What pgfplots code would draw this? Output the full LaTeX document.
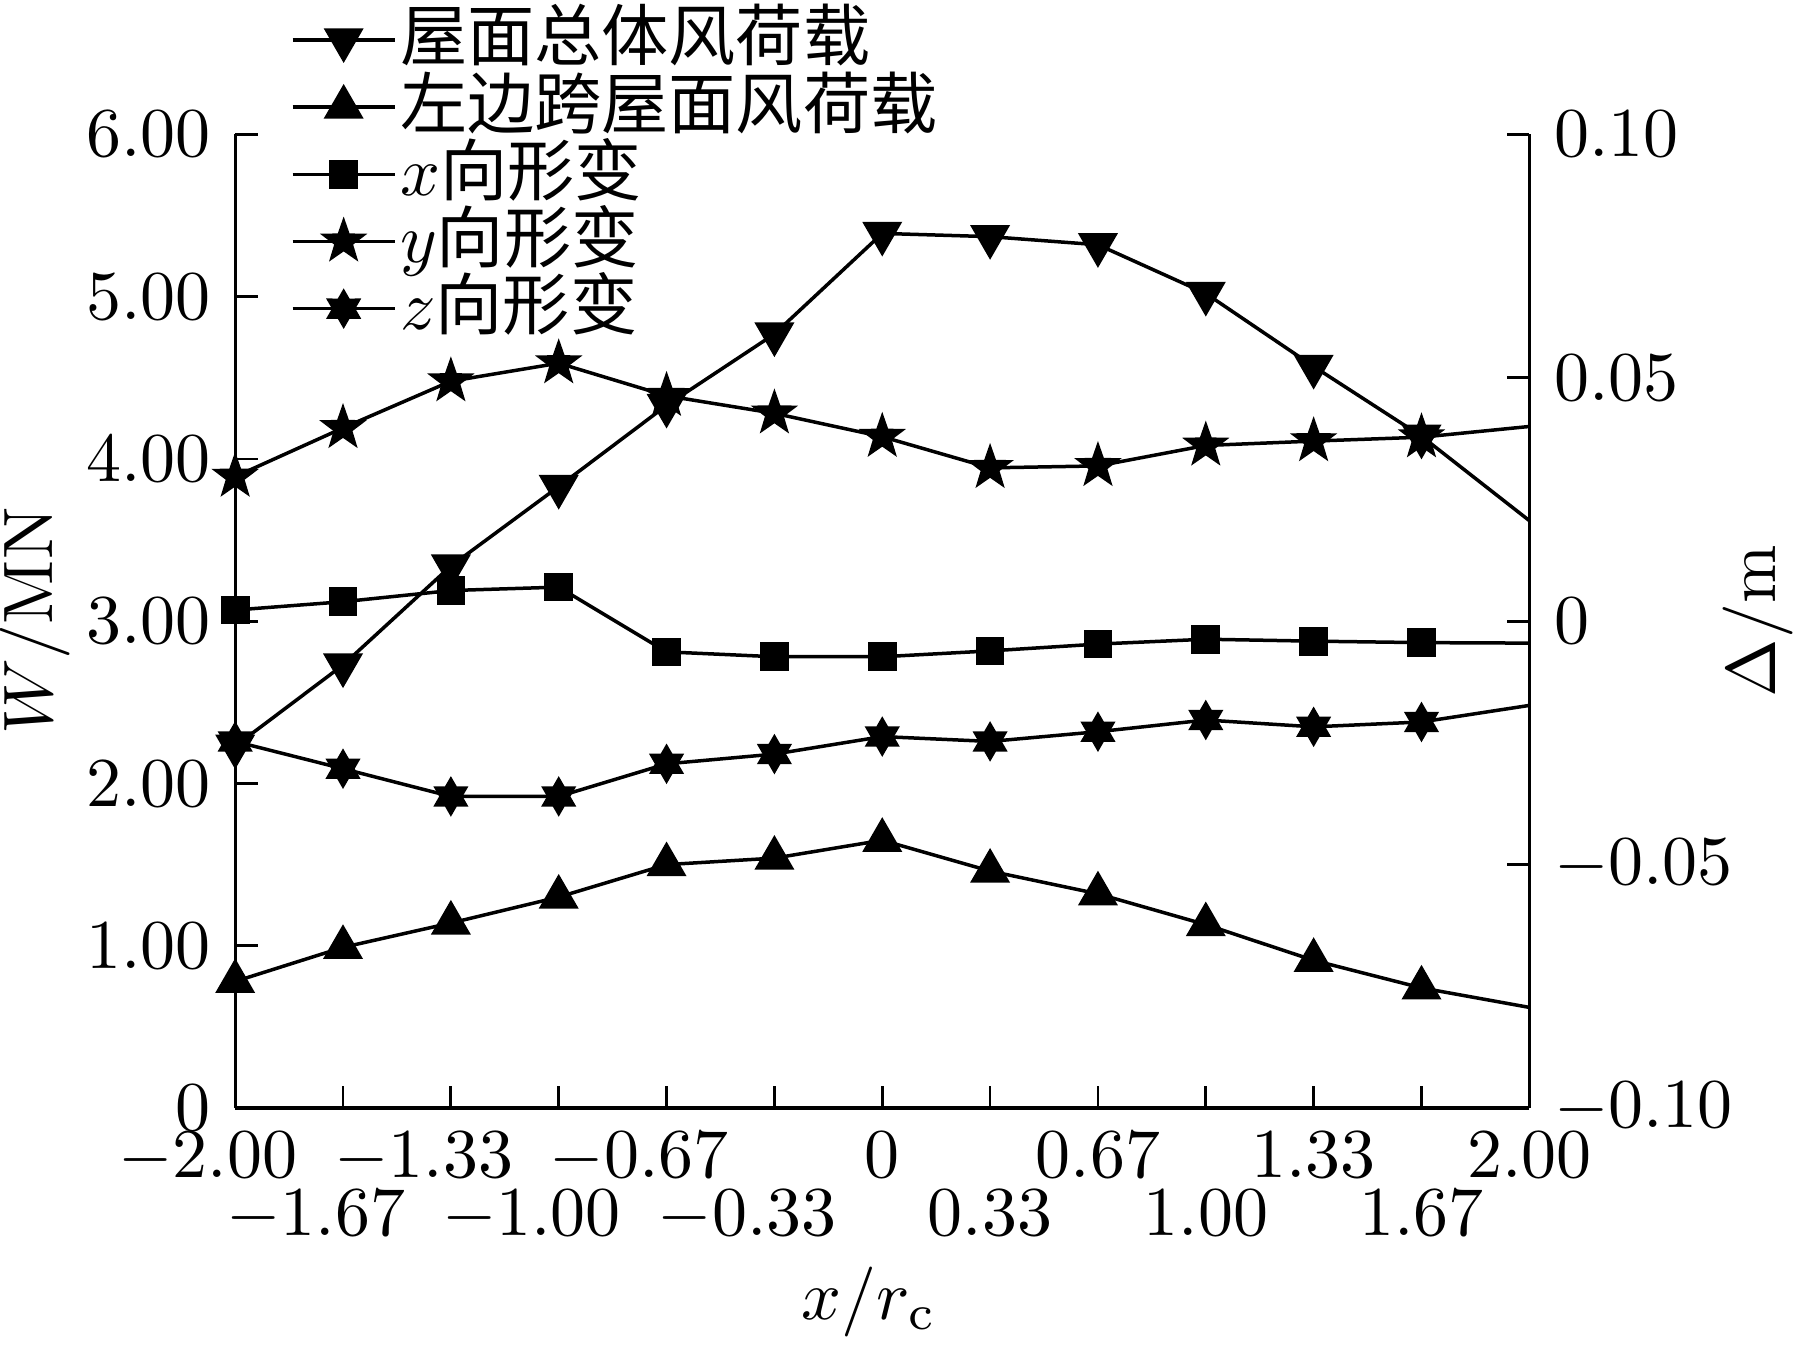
\documentclass[border=0pt]{standalone}
\usepackage{fontspec}
\usepackage{pgfplots}
\pgfplotsset{compat=1.18}
\newfontfamily\cjk{Noto Sans CJK SC}
\newcommand{\lcjk}[1]{{\fontsize{9.6pt}{10pt}\selectfont\cjk #1}}

\pgfdeclareplotmark{fivestar}{%
  \pgfpathmoveto{\pgfpointpolar{90}{\pgfplotmarksize}}%
  \pgfpathlineto{\pgfpointpolar{126}{0.40\pgfplotmarksize}}%
  \pgfpathlineto{\pgfpointpolar{162}{\pgfplotmarksize}}%
  \pgfpathlineto{\pgfpointpolar{198}{0.40\pgfplotmarksize}}%
  \pgfpathlineto{\pgfpointpolar{234}{\pgfplotmarksize}}%
  \pgfpathlineto{\pgfpointpolar{270}{0.40\pgfplotmarksize}}%
  \pgfpathlineto{\pgfpointpolar{306}{\pgfplotmarksize}}%
  \pgfpathlineto{\pgfpointpolar{342}{0.40\pgfplotmarksize}}%
  \pgfpathlineto{\pgfpointpolar{18}{\pgfplotmarksize}}%
  \pgfpathlineto{\pgfpointpolar{54}{0.40\pgfplotmarksize}}%
  \pgfpathclose
  \pgfusepathqfillstroke}

\pgfdeclareplotmark{sixstar}{%
  \pgfpathmoveto{\pgfpointpolar{90}{\pgfplotmarksize}}%
  \pgfpathlineto{\pgfpointpolar{120}{0.577\pgfplotmarksize}}%
  \pgfpathlineto{\pgfpointpolar{150}{\pgfplotmarksize}}%
  \pgfpathlineto{\pgfpointpolar{180}{0.577\pgfplotmarksize}}%
  \pgfpathlineto{\pgfpointpolar{210}{\pgfplotmarksize}}%
  \pgfpathlineto{\pgfpointpolar{240}{0.577\pgfplotmarksize}}%
  \pgfpathlineto{\pgfpointpolar{270}{\pgfplotmarksize}}%
  \pgfpathlineto{\pgfpointpolar{300}{0.577\pgfplotmarksize}}%
  \pgfpathlineto{\pgfpointpolar{330}{\pgfplotmarksize}}%
  \pgfpathlineto{\pgfpointpolar{0}{0.577\pgfplotmarksize}}%
  \pgfpathlineto{\pgfpointpolar{30}{\pgfplotmarksize}}%
  \pgfpathlineto{\pgfpointpolar{60}{0.577\pgfplotmarksize}}%
  \pgfpathclose
  \pgfusepathqfillstroke}

\pgfplotstableread{
x        total  left
-2.0000  2.23   0.78
-1.6667  2.73   0.99
-1.3333  3.34   1.14
-1.0000  3.83   1.30
-0.6667  4.33   1.50
-0.3333  4.77   1.54
 0.0000  5.39   1.65
 0.3333  5.37   1.46
 0.6667  5.32   1.32
 1.0000  5.02   1.13
 1.3333  4.57   0.91
 1.6667  4.14   0.74
 2.0000  3.62   0.62
}\loads

\pgfplotstableread{
x        dx       dy      dz
-2.0000  0.0023   0.0297  -0.0247
-1.6667  0.0040   0.0397  -0.0303
-1.3333  0.0063   0.0493  -0.0360
-1.0000  0.0070   0.0530  -0.0360
-0.6667  -0.0063  0.0463  -0.0293
-0.3333  -0.0073  0.0427  -0.0273
 0.0000  -0.0073  0.0379  -0.0237
 0.3333  -0.0061  0.0315  -0.0247
 0.6667  -0.0047  0.0319  -0.0227
 1.0000  -0.0037  0.0361  -0.0203
 1.3333  -0.0041  0.0370  -0.0217
 1.6667  -0.0044  0.0378  -0.0207
 2.0000  -0.0045  0.0400  -0.0173
}\deforms

\pgfplotsset{
  common/.style={
    scale only axis, width=184.9pt, height=139.1pt,
    xmin=-2, xmax=2,
    tick align=inside, major tick length=3.2pt,
    tick style={black, line width=0.4pt},
    axis line style={line width=0.45pt},
  },
  s1/.style={black, line width=0.5pt, mark=triangle*, mark size=2.8pt, mark options={rotate=180, solid}},
  s2/.style={black, line width=0.5pt, mark=triangle*, mark size=2.8pt, mark options={solid}},
  s3/.style={black, line width=0.5pt, mark=square*, mark size=1.8pt, mark options={solid}},
  s4/.style={black, line width=0.5pt, mark=fivestar, mark size=2.8pt, mark options={solid}},
  s5/.style={black, line width=0.5pt, mark=sixstar, mark size=2.4pt, mark options={solid}},
  nolast/.style={mark indices={1,2,3,4,5,6,7,8,9,10,11,12}},
}

\begin{document}
\begin{tikzpicture}
\path[use as bounding box] (-33.6pt,-35.6pt) rectangle (224pt,158.3pt);
\begin{axis}[common,
  ymin=0, ymax=6,
  axis x line*=bottom, axis y line*=left,
  xtick={-2,-1.3333,-0.6667,0,0.6667,1.3333,2},
  xticklabels={$\llap{$-$}2.00$, $\llap{$-$}1.33$, $\llap{$-$}0.67$, $0$, $0.67$, $1.33$, $2.00$},
  extra x ticks={-1.6667,-1,-0.3333,0.3333,1,1.6667},
  extra x tick labels={$\llap{$-$}1.67$, $\llap{$-$}1.00$, $\llap{$-$}0.33$, $0.33$, $1.00$, $1.67$},
  extra x tick style={tick label style={yshift=-8.2pt}},
  ytick={0,1,2,3,4,5,6},
  yticklabels={$0$,$1.00$,$2.00$,$3.00$,$4.00$,$5.00$,$6.00$},
  xlabel={$x/r_{\mathrm{c}}$},
  xlabel style={at={(axis description cs:0.49,-0.199)}, anchor=center},
  ylabel={$W/\mathrm{MN}$},
  ylabel style={at={(axis description cs:-0.155,0.5)}, anchor=center},
]
\addplot[s1, nolast] table[x=x, y=total] {\loads};
\addplot[s2, nolast] table[x=x, y=left] {\loads};
\end{axis}
\begin{axis}[common,
  ymin=-0.1, ymax=0.1,
  axis y line*=right, axis x line=none,
  ytick={-0.1,-0.05,0,0.05,0.1},
  yticklabels={$-0.10$,$-0.05$,$0$,$0.05$,$0.10$},
  ylabel={$\Delta/\mathrm{m}$},
  ylabel style={at={(axis description cs:1.177,0.5)}, anchor=center},
  legend style={draw=none, fill=none, at={(axis description cs:0.043,1.1316)}, anchor=north west,
    inner sep=0pt, outer sep=0pt, row sep=0pt, column sep=0pt,
    nodes={inner sep=0.5pt, text height=7.3pt, text depth=1.3pt, anchor=west}},
  legend cell align=left,
  legend image code/.code={\draw[#1, mark indices={2}] plot coordinates {(0pt,0pt) (7.3pt,0pt) (14.6pt,0pt)};},
]
\addlegendimage{s1}
\addlegendentry{\lcjk{屋面总体风荷载}}
\addlegendimage{s2}
\addlegendentry{\lcjk{左边跨屋面风荷载}}
\addplot[s3, nolast] table[x=x, y=dx] {\deforms};
\addlegendentry{$x$\lcjk{向形变}}
\addplot[s4, nolast] table[x=x, y=dy] {\deforms};
\addlegendentry{$y$\lcjk{向形变}}
\addplot[s5, nolast] table[x=x, y=dz] {\deforms};
\addlegendentry{$z$\lcjk{向形变}}
\end{axis}
\end{tikzpicture}
\end{document}
